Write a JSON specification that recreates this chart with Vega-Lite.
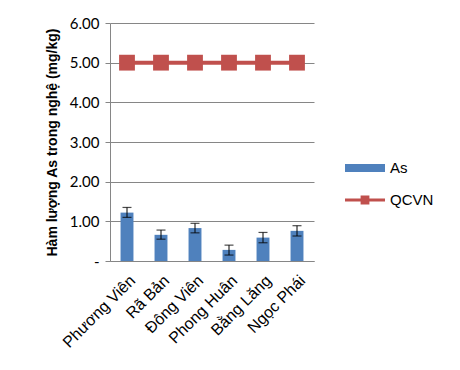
{
  "$schema": "https://vega.github.io/schema/vega-lite/v6.json",
  "width": 204,
  "height": 238,
  "autosize": {"type": "none"},
  "padding": {"left": 110, "top": 23, "right": 146, "bottom": 109},
  "background": "white",
  "config": {
    "view": {"stroke": null},
    "font": "Liberation Sans",
    "axisY": {
      "labelOverlap": false,
      "labelFont": "Lato", "labelFontSize": 15, "labelColor": "#000",
      "gridColor": "#868686", "domainColor": "#868686", "tickColor": "#868686",
      "tickSize": 5, "labelPadding": 6,
      "titleFont": "Liberation Sans", "titleFontSize": 14, "titleFontWeight": "bold",
      "titleColor": "#000", "titlePadding": 10
    }
  },
  "data": {
    "values": [
      {"site": "Phương Viên", "as": 1.22, "lo": 1.10, "hi": 1.35, "qcvn": 5},
      {"site": "Rã Bản", "as": 0.66, "lo": 0.55, "hi": 0.78, "qcvn": 5},
      {"site": "Đông Viên", "as": 0.83, "lo": 0.71, "hi": 0.95, "qcvn": 5},
      {"site": "Phong Huân", "as": 0.28, "lo": 0.15, "hi": 0.40, "qcvn": 5},
      {"site": "Bằng Lăng", "as": 0.59, "lo": 0.46, "hi": 0.72, "qcvn": 5},
      {"site": "Ngọc Phái", "as": 0.76, "lo": 0.63, "hi": 0.89, "qcvn": 5}
    ]
  },
  "encoding": {
    "x": {
      "field": "site", "type": "nominal", "sort": null,
      "scale": {"paddingInner": 0.62, "paddingOuter": 0.31},
      "axis": {
        "title": null, "labelAngle": -45, "labelFontSize": 16, "labelColor": "#000",
        "ticks": false, "domain": true, "domainColor": "#868686", "labelPadding": 11,
        "labelFont": "Liberation Sans", "labelOverlap": false
      }
    }
  },
  "layer": [
    {
      "mark": {"type": "bar"},
      "encoding": {
        "y": {
          "field": "as", "type": "quantitative",
          "scale": {"domain": [0, 6]},
          "axis": {
            "values": [0, 1, 2, 3, 4, 5, 6],
            "labelExpr": "datum.value == 0 ? '-' : format(datum.value, '.2f')",
            "title": "Hàm lượng As trong nghệ (mg/kg)"
          }
        },
        "fill": {
          "datum": "As", "type": "nominal",
          "scale": {"domain": ["As"], "range": ["#4F81BD"]},
          "legend": {
            "title": null, "orient": "none", "legendX": 235, "legendY": 125,
            "symbolType": "M-1,-0.2H1V0.2H-1Z", "symbolSize": 1600,
            "labelFontSize": 15, "labelColor": "#000", "labelFont": "Liberation Sans",
            "symbolStrokeWidth": 0, "labelOffset": 5
          }
        }
      }
    },
    {
      "mark": {"type": "rule", "color": "#000", "strokeWidth": 1},
      "encoding": {
        "y": {"field": "lo", "type": "quantitative", "axis": {"values": [0, 1, 2, 3, 4, 5, 6], "labelExpr": "datum.value == 0 ? '-' : format(datum.value, '.2f')", "title": "Hàm lượng As trong nghệ (mg/kg)"}},
        "y2": {"field": "hi"}
      }
    },
    {
      "mark": {"type": "tick", "color": "#000", "size": 9, "thickness": 1.2, "orient": "horizontal"},
      "encoding": {"y": {"field": "lo", "type": "quantitative", "axis": {"values": [0, 1, 2, 3, 4, 5, 6], "labelExpr": "datum.value == 0 ? '-' : format(datum.value, '.2f')", "title": "Hàm lượng As trong nghệ (mg/kg)"}}}
    },
    {
      "mark": {"type": "tick", "color": "#000", "size": 9, "thickness": 1.2, "orient": "horizontal"},
      "encoding": {"y": {"field": "hi", "type": "quantitative", "axis": {"values": [0, 1, 2, 3, 4, 5, 6], "labelExpr": "datum.value == 0 ? '-' : format(datum.value, '.2f')", "title": "Hàm lượng As trong nghệ (mg/kg)"}}}
    },
    {
      "mark": {"type": "line", "strokeWidth": 4},
      "encoding": {
        "y": {"field": "qcvn", "type": "quantitative", "axis": {"values": [0, 1, 2, 3, 4, 5, 6], "labelExpr": "datum.value == 0 ? '-' : format(datum.value, '.2f')", "title": "Hàm lượng As trong nghệ (mg/kg)"}},
        "stroke": {
          "datum": "QCVN", "type": "nominal",
          "scale": {"domain": ["QCVN"], "range": ["#C0504D"]},
          "legend": {
            "title": null, "orient": "none", "legendX": 235, "legendY": 157,
            "symbolType": "M-1,-0.08H1V0.08H-1Z M-0.22,-0.22H0.22V0.22H-0.22Z", "symbolSize": 1600,
            "symbolFillColor": "#C0504D", "symbolStrokeWidth": 0,
            "labelFontSize": 15, "labelColor": "#000", "labelFont": "Liberation Sans", "labelOffset": 5
          }
        }
      }
    },
    {
      "mark": {"type": "point", "shape": "square", "filled": true, "size": 250, "color": "#C0504D", "opacity": 1},
      "encoding": {"y": {"field": "qcvn", "type": "quantitative", "axis": {"values": [0, 1, 2, 3, 4, 5, 6], "labelExpr": "datum.value == 0 ? '-' : format(datum.value, '.2f')", "title": "Hàm lượng As trong nghệ (mg/kg)"}}}
    }
  ]
}
